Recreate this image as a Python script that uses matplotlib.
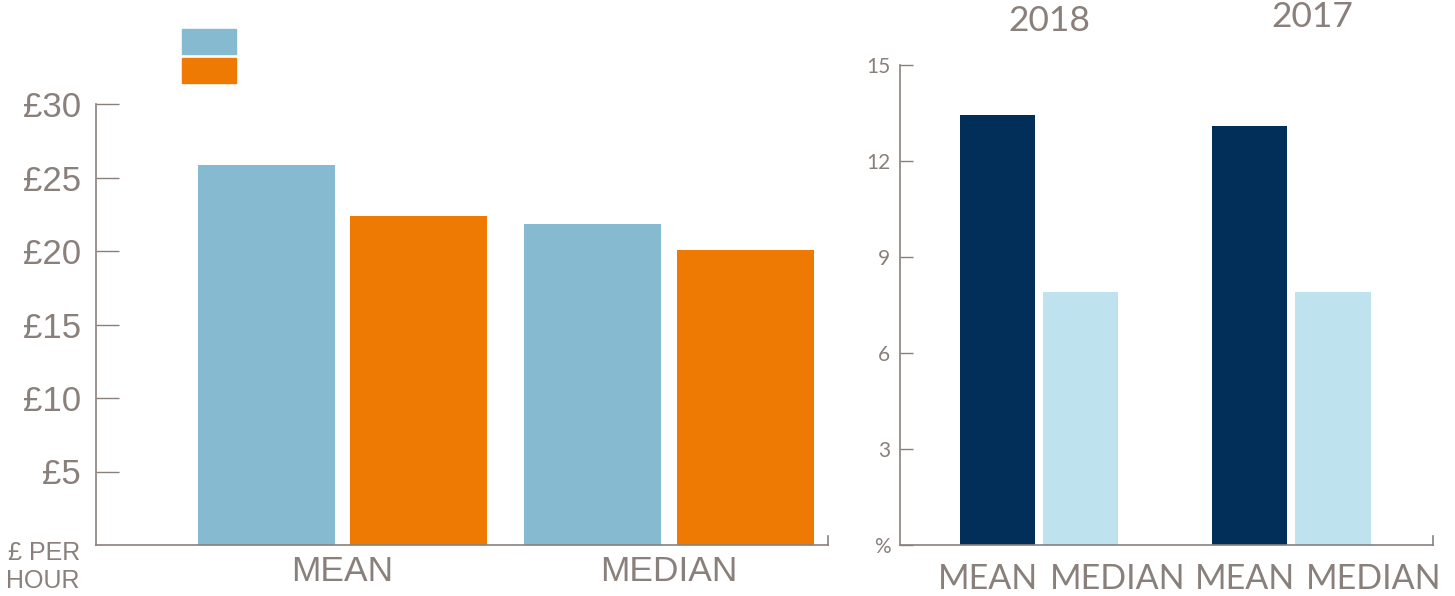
import matplotlib.pyplot as plt
import matplotlib.transforms as mtransforms
import numpy as np
from matplotlib.patches import Rectangle

# Hourly pay, left panel
pay_groups = ["MEAN", "MEDIAN"]
pay_series_a = [25.85, 21.85]
pay_series_b = [22.4, 20.1]
pay_ticks = [5, 10, 15, 20, 25, 30]
pay_tick_labels = ["£5", "£10", "£15", "£20", "£25", "£30"]

# Pay gap %, right panel
gap_years = ["2018", "2017"]
gap_mean = [13.45, 13.1]
gap_median = [7.9, 7.9]
gap_ticks = [0, 3, 6, 9, 12, 15]
gap_tick_labels = ["%", "3", "6", "9", "12", "15"]

GREY = "#8a807b"
LIGHT_BLUE = "#85bad0"
ORANGE = "#ee7a03"
NAVY = "#012f5a"
PALE_BLUE = "#bee2ee"

fig = plt.figure(figsize=(14.55, 5.96), dpi=100)
W, H = 1455, 596

# ---- left panel ----
ax1 = fig.add_axes([96 / W, 1 - 545 / H, 732 / W, 441 / H])
x = np.arange(len(pay_groups))
ax1.bar(x - 0.233, pay_series_a, width=0.42, color=LIGHT_BLUE)
ax1.bar(x + 0.233, pay_series_b, width=0.42, color=ORANGE)
ax1.set_xlim(-0.755, 1.487)
ax1.set_ylim(0, 30)
ax1.set_yticks(pay_ticks)
ax1.set_yticklabels(pay_tick_labels, family="Liberation Sans", fontsize=25, color=GREY)
ax1.set_xticks(x)
ax1.set_xticklabels(pay_groups, family="Liberation Sans", fontsize=25.5, color=GREY)
ax1.tick_params(axis="y", direction="in", length=16.5, width=1, color=GREY, pad=11)
ax1.tick_params(axis="x", length=0, pad=7)
ax1.spines["top"].set_visible(False)
for side in ["left", "bottom", "right"]:
    ax1.spines[side].set_color(GREY)
    ax1.spines[side].set_linewidth(1.2)
ax1.spines["right"].set_bounds(0, 0.6)

fig.text(80 / W, 1 - 553 / H, "£ PER", ha="right", va="center",
         family="Liberation Sans", fontsize=18, color=GREY)
fig.text(80 / W, 1 - 581 / H, "HOUR", ha="right", va="center",
         family="Liberation Sans", fontsize=18, color=GREY)

# legend swatches (no labels in the original)
fig.patches.append(Rectangle((182 / W, 1 - 54 / H), 54 / W, 25 / H,
                             transform=fig.transFigure, color=LIGHT_BLUE))
fig.patches.append(Rectangle((182 / W, 1 - 83 / H), 54 / W, 25 / H,
                             transform=fig.transFigure, color=ORANGE))

# ---- right panel ----
ax2 = fig.add_axes([900 / W, 1 - 545 / H, 533 / W, 480 / H])
xg = np.arange(len(gap_years))
ax2.bar(xg - 0.165, gap_mean, width=0.30, color=NAVY)
ax2.bar(xg + 0.165, gap_median, width=0.30, color=PALE_BLUE)
ax2.set_xlim(-0.552, 1.563)
ax2.set_ylim(0, 15)
ax2.set_yticks(gap_ticks)
ax2.set_yticklabels(gap_tick_labels, family="Lato", fontsize=15, color=GREY)
ax2.tick_params(axis="y", direction="in", length=9.5, width=1, color=GREY, pad=7)

bar_centres = np.concatenate([[p - 0.165, p + 0.165] for p in xg])
ax2.set_xticks(bar_centres)
ax2.set_xticklabels(["MEAN", "MEDIAN", "MEAN", "MEDIAN"], family="Lato",
                    fontsize=24.5, color=GREY)
ax2.tick_params(axis="x", length=0, pad=13)
# labels in the original are packed side by side rather than centred on bars
shifts = [-10, 37, -5, 41]
for lbl, dx in zip(ax2.get_xticklabels(), shifts):
    lbl.set_transform(lbl.get_transform()
                      + mtransforms.ScaledTranslation(dx / 100, 0, fig.dpi_scale_trans))

ax2.spines["top"].set_visible(False)
for side in ["left", "bottom", "right"]:
    ax2.spines[side].set_color(GREY)
    ax2.spines[side].set_linewidth(1.2)
ax2.spines["right"].set_bounds(0, 0.28)

fig.text(1049 / W, 1 - 21 / H, gap_years[0], ha="center", va="center",
         family="Lato", fontsize=25.5, color=GREY)
fig.text(1312 / W, 1 - 17 / H, gap_years[1], ha="center", va="center",
         family="Lato", fontsize=25.5, color=GREY)

fig.savefig("out.png", dpi=100)
